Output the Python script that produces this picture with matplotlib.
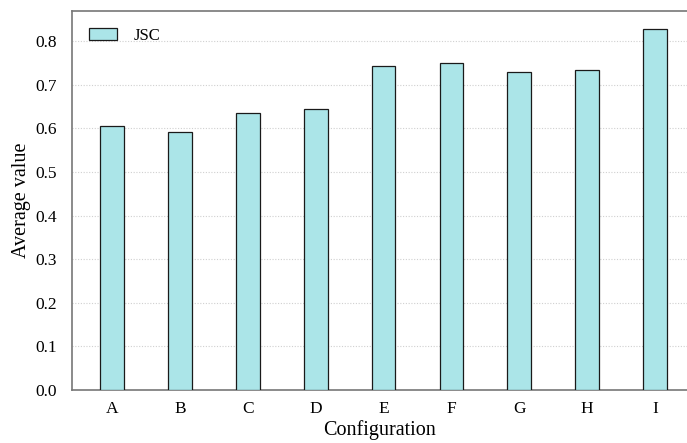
import matplotlib
matplotlib.use("Agg")
import matplotlib.pyplot as plt
import numpy as np

configs = ["A", "B", "C", "D", "E", "F", "G", "H", "I"]
jsc_avg = [0.605, 0.592, 0.636, 0.644, 0.742, 0.749, 0.729, 0.734, 0.828]

plt.rcParams["font.family"] = ["Liberation Serif", "DejaVu Serif"]

fig = plt.figure(figsize=(6.87, 4.43), dpi=100)
ax = fig.add_axes([0.1048, 0.1196, 0.8952, 0.8556])

x = np.arange(len(configs))
ax.bar(x, jsc_avg, width=0.35, color="#abe5e8", edgecolor="#1a1a1a",
       linewidth=0.9, label="JSC", zorder=3)

ax.set_xlim(-0.59, 8.47)
ax.set_ylim(0, 0.869)
ax.set_yticks(np.arange(0, 0.81, 0.1))
ax.set_yticklabels([f"{v:.1f}" for v in np.arange(0, 0.81, 0.1)])
ax.set_xticks(x)
ax.set_xticklabels(configs)
ax.tick_params(axis="both", length=0, labelsize=12.5)
ax.tick_params(axis="x", pad=8)
ax.tick_params(axis="y", pad=11)

ax.yaxis.grid(True, linestyle=(0, (1, 1.5)), color="#d0d0d0", linewidth=0.8, zorder=0)
for side in ["left", "top", "bottom"]:
    ax.spines[side].set_color("#777777")
    ax.spines[side].set_linewidth(1.2)
ax.spines["right"].set_visible(False)

ax.set_xlabel("Configuration", fontsize=14.5, labelpad=2)
ax.set_ylabel("Average value", fontsize=14.5, labelpad=3)

ax.legend(loc="upper left", frameon=False, fontsize=12,
          handlelength=1.7, handleheight=0.75, handletextpad=1.0,
          borderaxespad=0.6)

fig.savefig("out.png", dpi=100)
